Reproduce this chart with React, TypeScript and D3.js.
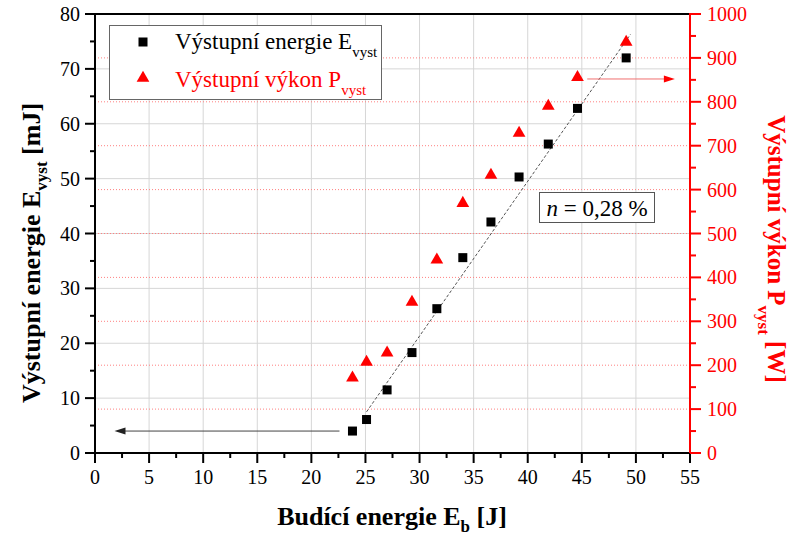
import React from 'react';
import * as d3 from 'd3';

// Data
const budiciEnergie = [23.8, 25.1, 27.0, 29.3, 31.6, 34.0, 36.6, 39.2, 41.9, 44.6, 49.1];
const vystupniEnergie = [4.0, 6.1, 11.5, 18.3, 26.3, 35.6, 42.1, 50.3, 56.3, 62.8, 72.0];
const vystupniVykon = [171, 207, 228, 344, 440, 569, 633, 729, 790, 856, 936];

const xTicks = [0, 5, 10, 15, 20, 25, 30, 35, 40, 45, 50, 55];
const xMinorTicks = [2.5, 7.5, 12.5, 17.5, 22.5, 27.5, 32.5, 37.5, 42.5, 47.5, 52.5];
const yLeftTicks = [0, 10, 20, 30, 40, 50, 60, 70, 80];
const yLeftMinor = [5, 15, 25, 35, 45, 55, 65, 75];
const yRightTicks = [0, 100, 200, 300, 400, 500, 600, 700, 800, 900, 1000];
const yRightMinor = [50, 150, 250, 350, 450, 550, 650, 750, 850, 950];

// Linear fit (dashed) endpoints
const fitX = [25.1, 49.5];
const fitY = [7.5, 76.3];

// Arrows indicating the axes
const leftArrowX = [22.6, 1.8];
const leftArrowY = 4;
const rightArrowX = [45.5, 53.6];
const rightArrowY = 852;

const TS: React.CSSProperties = { fontFamily: 'Liberation Serif' };
const RED = '#ff0000';

export default function App() {
  const L = 95, R = 690, T = 14, B = 453;
  const x = d3.scaleLinear().domain([0, 55]).range([L, R]);
  const yL = d3.scaleLinear().domain([0, 80]).range([B, T]);
  const yR = d3.scaleLinear().domain([0, 1000]).range([B, T]);

  const fitPath = d3.line<number>()
    .x((d, i) => x(fitX[i]))
    .y((d, i) => yL(fitY[i]))(fitX);

  const tri = d3.symbol().type(d3.symbolTriangle).size(70)();
  const sq = 9;

  const la0 = x(leftArrowX[0]), la1 = x(leftArrowX[1]), lay = yL(leftArrowY);
  const ra0 = x(rightArrowX[0]), ra1 = x(rightArrowX[1]), ray = yR(rightArrowY);

  return (
    <svg width={791} height={544} style={{ position: 'absolute', left: 0, top: 0, background: '#fff' }}>
      <rect x={0} y={0} width={791} height={544} fill="#fff" />
      {/* gray grid */}
      {xTicks.filter(t => t > 0 && t < 55).map(t => (
        <line key={'gx' + t} x1={x(t)} x2={x(t)} y1={T} y2={B} stroke="#d6d6d6" strokeWidth={1} />
      ))}
      {yLeftTicks.filter(t => t > 0 && t < 80).map(t => (
        <line key={'gy' + t} x1={L} x2={R} y1={yL(t)} y2={yL(t)} stroke="#d6d6d6" strokeWidth={1} />
      ))}
      {/* red dotted grid */}
      {yRightTicks.filter(t => t > 0 && t < 1000).map(t => (
        <line key={'gr' + t} x1={L} x2={R} y1={yR(t)} y2={yR(t)} stroke="#ff8080" strokeWidth={1}
          strokeDasharray="1,2" />
      ))}

      {/* fit line */}
      <path d={fitPath || ''} fill="none" stroke="#555" strokeWidth={1} strokeDasharray="3,2" />

      {/* left arrow */}
      <line x1={la0} x2={la1 + 10} y1={lay} y2={lay} stroke="#444" strokeWidth={1} />
      <path d={`M${la1},${lay} L${la1 + 11},${lay - 3.5} L${la1 + 11},${lay + 3.5} Z`} fill="#222" />
      {/* right arrow */}
      <line x1={ra0} x2={ra1 - 10} y1={ray} y2={ray} stroke="#f07070" strokeWidth={1} />
      <path d={`M${ra1},${ray} L${ra1 - 11},${ray - 3.5} L${ra1 - 11},${ray + 3.5} Z`} fill={RED} />

      {/* markers */}
      {budiciEnergie.map((v, i) => (
        <path key={'t' + i} d={tri || ''} transform={`translate(${x(v)},${yR(vystupniVykon[i])})`} fill={RED} />
      ))}
      {budiciEnergie.map((v, i) => (
        <rect key={'s' + i} x={x(v) - sq / 2} y={yL(vystupniEnergie[i]) - sq / 2} width={sq} height={sq} fill="#000" />
      ))}

      {/* legend */}
      <rect x={109.5} y={25.5} width={272} height={74} fill="#fff" stroke="#666" strokeWidth={1} />
      <rect x={143 - sq / 2} y={42 - sq / 2} width={sq} height={sq} fill="#000" />
      <path d={tri || ''} transform="translate(143,78)" fill={RED} />
      <text x={175} y={49} fontSize={23} fill="#000" style={TS}>
        Výstupní energie E<tspan fontSize={15} dy={8}>vyst</tspan>
      </text>
      <text x={175} y={87} fontSize={23} fill={RED} style={TS}>
        Výstupní výkon P<tspan fontSize={15} dy={8}>vyst</tspan>
      </text>

      {/* annotation */}
      <rect x={539.5} y={192.5} width={115} height={30} fill="#fff" stroke="#555" strokeWidth={1} />
      <text x={597} y={215.5} fontSize={23} textAnchor="middle" fill="#000" style={TS}>
        <tspan fontStyle="italic">n</tspan> = 0,28 %
      </text>

      {/* axes frame */}
      <line x1={L} x2={R} y1={T} y2={T} stroke="#000" strokeWidth={2} />
      <line x1={L - 1} x2={R} y1={B} y2={B} stroke="#000" strokeWidth={2} />
      <line x1={L} x2={L} y1={T - 1} y2={B + 1} stroke="#000" strokeWidth={2} />
      <line x1={R} x2={R} y1={T - 1} y2={B + 1} stroke={RED} strokeWidth={2} />

      {/* x ticks */}
      {xTicks.map(t => (
        <g key={'xt' + t}>
          <line x1={x(t)} x2={x(t)} y1={B} y2={B + 10} stroke="#000" strokeWidth={2} />
          <text x={x(t)} y={B + 31} fontSize={20} textAnchor="middle" fill="#000" style={TS}>{t}</text>
        </g>
      ))}
      {xMinorTicks.map(t => (
        <line key={'xm' + t} x1={x(t)} x2={x(t)} y1={B} y2={B + 5} stroke="#000" strokeWidth={2} />
      ))}
      {/* left y ticks */}
      {yLeftTicks.map(t => (
        <g key={'yl' + t}>
          <line x1={L - 10} x2={L} y1={yL(t)} y2={yL(t)} stroke="#000" strokeWidth={2} />
          <text x={80} y={yL(t) + 7} fontSize={20} textAnchor="end" fill="#000" style={TS}>{t}</text>
        </g>
      ))}
      {yLeftMinor.map(t => (
        <line key={'ylm' + t} x1={L - 5} x2={L} y1={yL(t)} y2={yL(t)} stroke="#000" strokeWidth={2} />
      ))}
      {/* right y ticks */}
      {yRightTicks.map(t => (
        <g key={'yr' + t}>
          <line x1={R} x2={R + 11} y1={yR(t)} y2={yR(t)} stroke={RED} strokeWidth={2} />
          <text x={707} y={yR(t) + 7} fontSize={20} textAnchor="start" fill={RED} style={TS}>{t}</text>
        </g>
      ))}
      {yRightMinor.map(t => (
        <line key={'yrm' + t} x1={R} x2={R + 6} y1={yR(t)} y2={yR(t)} stroke={RED} strokeWidth={2} />
      ))}

      {/* axis titles */}
      <text x={392} y={525} fontSize={26} fontWeight="bold" textAnchor="middle" fill="#000" style={TS}>
        Budící energie E<tspan fontSize={17} dy={7}>b</tspan><tspan dy={-7}> [J]</tspan>
      </text>
      <text transform="translate(40,253) rotate(-90)" fontSize={26} fontWeight="bold" textAnchor="middle" fill="#000" style={TS}>
        Výstupní energie E<tspan fontSize={17} dy={7}>vyst</tspan><tspan dy={-7}> [mJ]</tspan>
      </text>
      <text transform="translate(768,249) rotate(90)" fontSize={25} fontWeight="bold" textAnchor="middle" fill={RED} style={TS}>
        Výstupní výkon P<tspan fontSize={17} dy={10}>vyst</tspan><tspan dy={-10}> [W]</tspan>
      </text>
    </svg>
  );
}
